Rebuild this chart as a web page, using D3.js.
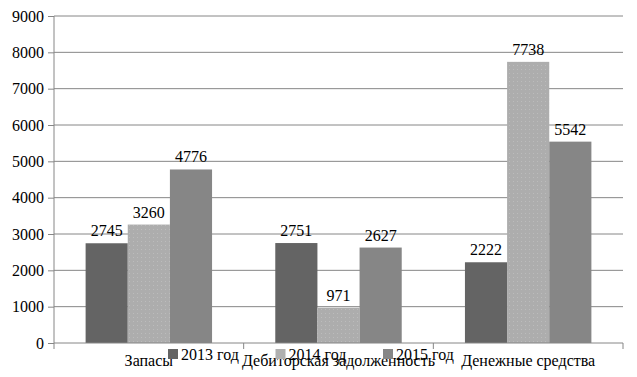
<!DOCTYPE html>
<html>
<head>
<meta charset="utf-8">
<script src="https://cdn.jsdelivr.net/npm/d3@7"></script>
<style>
  body { margin: 0; background: #fff; }
  svg, svg text { font-family: "Liberation Serif", "Times New Roman", serif; }
  svg { display: block; }
</style>
</head>
<body>
<div id="chart"></div>
<script>
// данные диаграммы
const categories = ["Запасы", "Дебиторская задолженность", "Денежные средства"];
const years = ["2013 год", "2014 год", "2015 год"];
const values2013 = [2745, 2751, 2222];
const values2014 = [3260, 971, 7738];
const values2015 = [4776, 2627, 5542];
const yTicks = [0, 1000, 2000, 3000, 4000, 5000, 6000, 7000, 8000, 9000];

const series = [values2013, values2014, values2015];
const data = [];
categories.forEach((c, i) => {
    years.forEach((y, j) => data.push({ cat: c, year: y, value: series[j][i] }));
});

const fullWidth = 637, fullHeight = 377;
const plotLeft = 54, plotRight = 623, plotTop = 16, plotBottom = 343;

const svg = d3.select("#chart").append("svg")
    .attr("width", fullWidth)
    .attr("height", fullHeight);

// узор для 2014 года (точки)
const defs = svg.append("defs");
const pat = defs.append("pattern")
    .attr("id", "dots")
    .attr("width", 4).attr("height", 4)
    .attr("patternUnits", "userSpaceOnUse");
pat.append("rect").attr("width", 4).attr("height", 4).attr("fill", "#adadad");
pat.append("rect").attr("x", 1).attr("y", 1).attr("width", 1).attr("height", 1).attr("fill", "#bcbcbc");

const color = d3.scaleOrdinal().domain(years).range(["#646464", "url(#dots)", "#868686"]);
const legendColor = d3.scaleOrdinal().domain(years).range(["#646464", "#b0b0b0", "#868686"]);

const x = d3.scaleBand().domain(categories).range([plotLeft, plotRight]);
const bw = x.bandwidth();
const gap = bw * 0.75 / 4.5;
const x1 = d3.scaleBand().domain(years).range([gap, bw - gap]);

const y = d3.scaleLinear().domain([0, 9000]).range([plotBottom, plotTop]);

// сетка
svg.append("g")
    .selectAll("line")
    .data(yTicks.filter(d => d > 0))
    .enter().append("line")
    .attr("x1", plotLeft).attr("x2", plotRight)
    .attr("y1", d => y(d)).attr("y2", d => y(d))
    .attr("stroke", "#868686");

// ось Y
const yAxis = svg.append("g")
    .attr("transform", `translate(${plotLeft},0)`)
    .call(d3.axisLeft(y).tickValues(yTicks).tickSize(6).tickPadding(4).tickFormat(d3.format("d")));
yAxis.attr("font-family", null).attr("font-size", null);
yAxis.selectAll("line, path").attr("stroke", "#868686");
yAxis.select(".domain").attr("d", `M0,${plotTop}V${plotBottom}`);
yAxis.selectAll("text")
    .style("font-size", "16px")
    .attr("fill", "#000");

// столбцы
svg.append("g")
    .selectAll("rect")
    .data(data)
    .enter().append("rect")
    .attr("x", d => x(d.cat) + x1(d.year))
    .attr("y", d => y(d.value))
    .attr("width", x1.bandwidth())
    .attr("height", d => y(0) - y(d.value))
    .attr("fill", d => color(d.year));

// подписи значений
svg.append("g")
    .selectAll("text")
    .data(data)
    .enter().append("text")
    .attr("x", d => x(d.cat) + x1(d.year) + x1.bandwidth() / 2)
    .attr("y", d => y(d.value) - 7)
    .attr("text-anchor", "middle")
    .style("font-size", "16px")
    .attr("fill", "#000")
    .text(d => d.value);

// ось X
svg.append("line")
    .attr("x1", plotLeft).attr("x2", plotRight)
    .attr("y1", plotBottom).attr("y2", plotBottom)
    .attr("stroke", "#868686");
svg.append("g")
    .selectAll("line")
    .data(categories.map(c => x(c)).concat([plotRight]))
    .enter().append("line")
    .attr("x1", d => d).attr("x2", d => d)
    .attr("y1", plotBottom).attr("y2", plotBottom + 6)
    .attr("stroke", "#868686");

svg.append("g")
    .selectAll("text")
    .data(categories)
    .enter().append("text")
    .attr("x", d => x(d) + bw / 2)
    .attr("y", 366)
    .attr("text-anchor", "middle")
    .style("font-size", "16px")
    .attr("fill", "#000")
    .text(d => d);

// легенда
const lx = d3.scalePoint().domain(years).range([168, 383]);
const legend = svg.append("g")
    .selectAll("g")
    .data(years)
    .enter().append("g")
    .attr("transform", d => `translate(${lx(d)},349)`);
legend.append("rect")
    .attr("width", 10).attr("height", 10)
    .attr("fill", d => legendColor(d));
legend.append("text")
    .attr("x", 13).attr("y", 11)
    .style("font-size", "16px")
    .attr("fill", "#000")
    .text(d => d);
</script>
</body>
</html>
